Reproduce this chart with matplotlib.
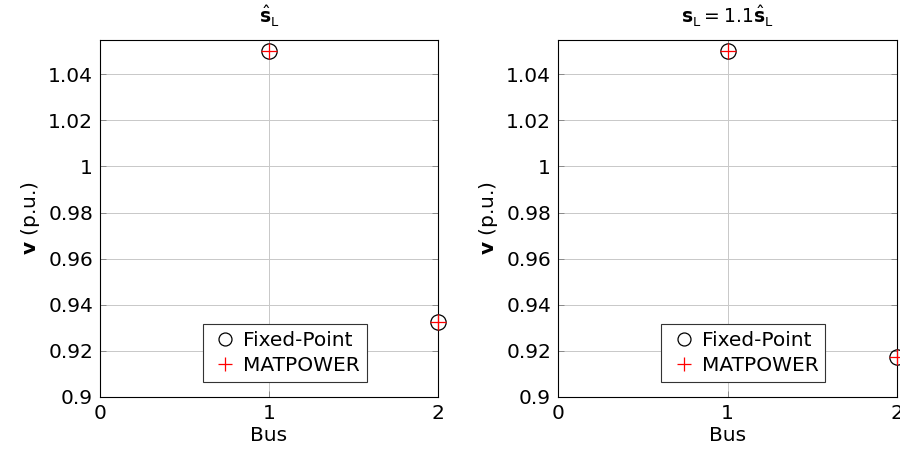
import matplotlib
matplotlib.use("Agg")
import matplotlib.pyplot as plt
from matplotlib.ticker import FuncFormatter

plt.rcParams['font.family'] = ['DejaVu Sans']
plt.rcParams['mathtext.fontset'] = 'dejavusans'

buses = [1, 2]
fp_base = [1.05, 0.9325]
mp_base = [1.05, 0.9325]
fp_high = [1.05, 0.9173]
mp_high = [1.05, 0.9173]
titles = [r'$\hat{\mathbf{s}}_\mathrm{L}$', r'$\mathbf{s}_\mathrm{L} = 1.1\hat{\mathbf{s}}_\mathrm{L}$']
yticks = [0.9, 0.92, 0.94, 0.96, 0.98, 1.0, 1.02, 1.04]
xticks = [0, 1, 2]

fig = plt.figure(figsize=(9, 4.55), dpi=100)
rects = [[100/900, 58/455, 338/900, 357/455], [558/900, 58/455, 339/900, 357/455]]
fs = 14.5
for rect, fp, mp, title in zip(rects, [fp_base, fp_high], [mp_base, mp_high], titles):
    ax = fig.add_axes(rect)
    ax.plot(buses, fp, linestyle='none', marker='o', markersize=11, markerfacecolor='none',
            markeredgecolor='black', markeredgewidth=0.9, clip_on=False, label='Fixed-Point', zorder=5)
    ax.plot(buses, mp, linestyle='none', marker='+', markersize=12, color='red',
            markeredgewidth=0.9, clip_on=False, label='MATPOWER', zorder=6)
    ax.set_xlim(0, 2)
    ax.set_ylim(0.9, 1.0548)
    ax.set_xticks(xticks)
    ax.set_yticks(yticks)
    ax.yaxis.set_major_formatter(FuncFormatter(lambda v, p: f'{v:g}'))
    ax.grid(True, color='#c8c8c8', linewidth=0.7)
    ax.set_axisbelow(True)
    ax.tick_params(direction='in', top=True, right=True, length=4, width=0.6,
                   color='#808080', labelsize=fs, pad=5)
    for s in ax.spines.values():
        s.set_linewidth(0.8)
    ax.set_xlabel('Bus', fontsize=fs, labelpad=2)
    ax.set_ylabel(r'$\mathbf{v}$ (p.u.)', fontsize=fs, labelpad=4)
    ax.set_title(title, fontsize=fs - 1, pad=12)
    leg = ax.legend(loc='lower center', bbox_to_anchor=(0.547, 0.042), fontsize=fs,
                    frameon=True, fancybox=False, edgecolor='#333333', framealpha=1,
                    borderpad=0.35, handletextpad=0.15, handlelength=1.5, labelspacing=0.3,
                    borderaxespad=0, markerscale=0.85)
    leg.get_frame().set_linewidth(0.8)

fig.savefig('out.png', dpi=100)
